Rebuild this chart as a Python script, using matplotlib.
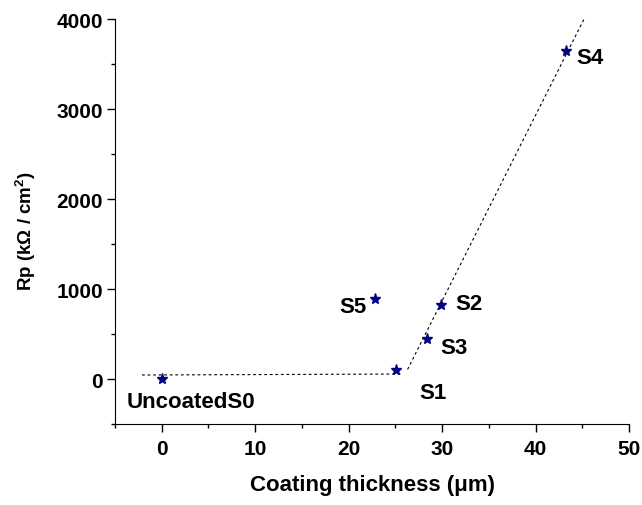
import matplotlib
matplotlib.use("Agg")
import matplotlib.pyplot as plt
from matplotlib.ticker import MultipleLocator

plt.rcParams['font.family'] = ['Liberation Sans', 'DejaVu Sans']
plt.rcParams['font.weight'] = 'bold'
plt.rcParams['mathtext.fontset'] = 'custom'
plt.rcParams['mathtext.bf'] = 'Liberation Sans:bold'
plt.rcParams['mathtext.rm'] = 'Liberation Sans:bold'

# Samples: coating thickness (um) and polarization resistance (kOhm/cm^2)
labels = ["UncoatedS0", "S1", "S3", "S2", "S5", "S4"]
thickness = [0.0, 25.1, 28.4, 29.9, 22.8, 43.2]
rp = [0, 100, 446, 824, 891, 3643]

# Guide lines (dotted): flat region and steep region
flat_x = [-2.1, 25.6]
flat_y = [45, 56]
steep_x = [26.3, 45.6]
steep_y = [107, 4090]

# label placement relative to each marker, in pixels (baseline anchored)
offsets = {"UncoatedS0": (-35, -28, 'left'), "S1": (23, -28, 'left'),
           "S3": (13, -14, 'left'), "S2": (14, -4.5, 'left'),
           "S5": (-8, -13.5, 'right'), "S4": (11, -11.5, 'left')}

fig = plt.figure(figsize=(6.42, 5.06), dpi=100)
ax = fig.add_axes([0.179, 0.160, 0.801, 0.800])

ax.plot(flat_x, flat_y, ls=(0, (2.5, 2.5)), color='black', lw=0.8)
ax.plot(steep_x, steep_y, ls=(0, (2.5, 2.5)), color='black', lw=0.8)
ax.plot(thickness, rp, ls='none', marker='*', ms=8, color='#000080')

for lab, x, y in zip(labels, thickness, rp):
    dx, dy, ha = offsets[lab]
    ax.annotate(lab, (x, y), xytext=(dx, dy), textcoords='offset pixels',
                fontsize=16, fontweight='bold', va='baseline', ha=ha)

ax.set_xlim(-5, 50)
ax.set_ylim(-500, 4000)
ax.xaxis.set_major_locator(MultipleLocator(10))
ax.xaxis.set_minor_locator(MultipleLocator(5))
ax.yaxis.set_major_locator(MultipleLocator(1000))
ax.yaxis.set_minor_locator(MultipleLocator(500))
ax.tick_params(which='major', length=5.5, width=1, labelsize=15, direction='out')
ax.tick_params(which='minor', length=3, width=1, direction='out')
ax.tick_params(axis='x', which='major', pad=5)
ax.tick_params(axis='y', which='major', pad=3)
for t in ax.get_xticklabels() + ax.get_yticklabels():
    t.set_fontweight('bold')

ax.spines['top'].set_visible(False)
ax.spines['right'].set_visible(False)

ax.set_xlabel("Coating thickness (\u03bcm)", fontsize=16, fontweight='bold', labelpad=12)
ax.set_ylabel("Rp (k\u03a9 / cm$^\\mathbf{2}$)", fontsize=13.5, fontweight='bold')
ax.yaxis.set_label_coords(-0.150, 0.479)

fig.savefig("out.png", dpi=100)
